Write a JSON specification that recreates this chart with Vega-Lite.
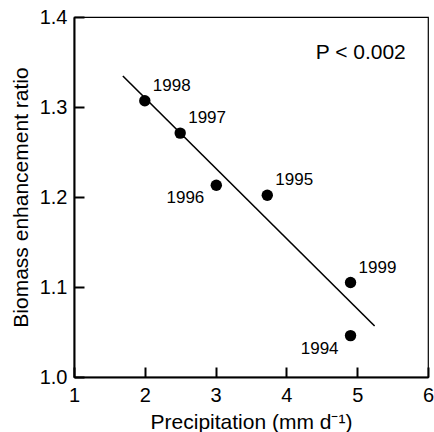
{
  "$schema": "https://vega.github.io/schema/vega-lite/v6.json",
  "autosize": "none",
  "width": 354,
  "height": 360,
  "padding": {"left": 74, "top": 17, "right": 6, "bottom": 55},
  "background": "white",
  "config": {
    "font": "Liberation Sans",
    "view": {"stroke": "black", "strokeWidth": 1.2},
    "axis": {
      "domainColor": "black", "domainWidth": 2,
      "tickColor": "black", "tickWidth": 2, "tickSize": -10,
      "labelColor": "black", "labelFontSize": 20, "labelFont": "Liberation Sans",
      "titleColor": "black", "titleFontSize": 21, "titleFont": "Liberation Sans", "titleFontWeight": "normal",
      "grid": false
    }
  },
  "datasets": {
    "pts": [
      {"year": "1998", "precip": 2.0, "ratio": 1.307},
      {"year": "1997", "precip": 2.5, "ratio": 1.271},
      {"year": "1996", "precip": 3.01, "ratio": 1.213},
      {"year": "1995", "precip": 3.73, "ratio": 1.202},
      {"year": "1999", "precip": 4.906, "ratio": 1.105},
      {"year": "1994", "precip": 4.906, "ratio": 1.046}
    ],
    "fit": [
      {"precip": 1.69, "ratio": 1.3344},
      {"precip": 5.246, "ratio": 1.0567}
    ]
  },
  "layer": [
    {
      "data": {"name": "fit"},
      "mark": {"type": "line", "color": "black", "strokeWidth": 1.6},
      "encoding": {
        "x": {"field": "precip", "type": "quantitative", "scale": {"domain": [1, 6], "nice": false},
              "axis": {"title": "Precipitation (mm d⁻¹)", "values": [1, 2, 3, 4, 5, 6], "format": "d", "labelPadding": 18, "titlePadding": 6, "labelFlush": false}},
        "y": {"field": "ratio", "type": "quantitative", "scale": {"domain": [1.0, 1.4], "nice": false, "zero": false},
              "axis": {"title": "Biomass enhancement ratio", "values": [1.0, 1.1, 1.2, 1.3, 1.4], "format": ".1f", "labelPadding": 17, "titlePadding": 8, "labelFlush": false}}
      }
    },
    {
      "data": {"name": "pts"},
      "mark": {"type": "circle", "color": "black", "opacity": 1, "size": 130},
      "encoding": {
        "x": {"field": "precip", "type": "quantitative"},
        "y": {"field": "ratio", "type": "quantitative"}
      }
    },
    {
      "data": {"name": "pts"},
      "transform": [{"filter": "datum.year != '1996' && datum.year != '1994'"}],
      "mark": {"type": "text", "align": "left", "baseline": "middle", "dx": 8, "dy": -15, "fontSize": 17, "color": "black"},
      "encoding": {
        "x": {"field": "precip", "type": "quantitative"},
        "y": {"field": "ratio", "type": "quantitative"},
        "text": {"field": "year"}
      }
    },
    {
      "data": {"name": "pts"},
      "transform": [{"filter": "datum.year == '1996' || datum.year == '1994'"}],
      "mark": {"type": "text", "align": "right", "baseline": "middle", "dx": -12, "dy": 13, "fontSize": 17, "color": "black"},
      "encoding": {
        "x": {"field": "precip", "type": "quantitative"},
        "y": {"field": "ratio", "type": "quantitative"},
        "text": {"field": "year"}
      }
    },
    {
      "data": {"values": [{"label": "P < 0.002"}]},
      "mark": {"type": "text", "align": "center", "baseline": "middle", "fontSize": 21, "color": "black"},
      "encoding": {
        "x": {"datum": 5.05, "type": "quantitative"},
        "y": {"datum": 1.36, "type": "quantitative"},
        "text": {"field": "label"}
      }
    }
  ]
}
